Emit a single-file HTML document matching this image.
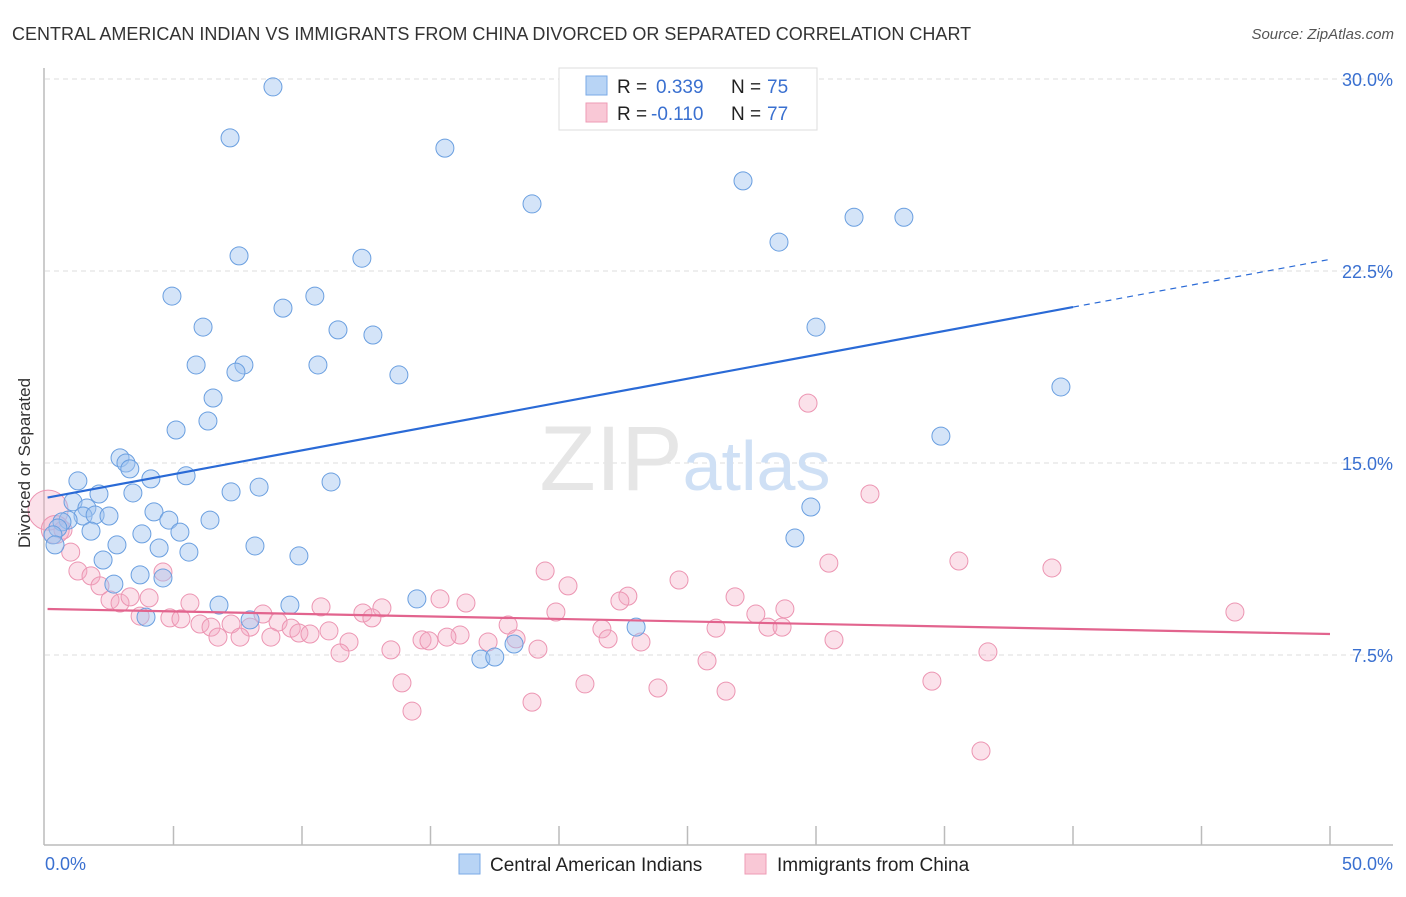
<!DOCTYPE html>
<html><head><meta charset="utf-8"><style>
body{margin:0;background:#fff;font-family:"Liberation Sans",sans-serif;}
svg text{font-family:"Liberation Sans",sans-serif;}
</style></head><body>
<svg id="chart" width="1406" height="892" xmlns="http://www.w3.org/2000/svg">
<text x="12" y="40" font-size="18" fill="#333">CENTRAL AMERICAN INDIAN VS IMMIGRANTS FROM CHINA DIVORCED OR SEPARATED CORRELATION CHART</text>
<text x="1394" y="39" font-size="15" fill="#555" text-anchor="end" font-style="italic">Source: ZipAtlas.com</text>
<g id="grid"></g>
<text x="685" y="490" font-size="92" fill="#e6e6e6" text-anchor="middle" font-family="Liberation Serif">ZIP<tspan fill="#cfe0f5" font-family="Liberation Sans" font-size="70">atlas</tspan></text>
<g id="axes"></g>
<g id="pink"></g>
<g id="blue"></g>
<g id="trend"></g>
<text x="22" y="455" font-size="17" fill="#333" text-anchor="middle" transform="rotate(-90 30 455)">Divorced or Separated</text>
<g>
<rect x="559" y="68" width="258" height="62" fill="#fff" stroke="#ddd"/>
<rect x="586" y="76" width="21" height="19" fill="#b8d4f5" stroke="#7aaae6"/>
<rect x="586" y="103" width="21" height="19" fill="#f9c8d6" stroke="#ee9bb5"/>
<text x="617" y="93" font-size="19" fill="#222">R = </text><text x="656" y="93" font-size="19" fill="#3a70d0">0.339</text>
<text x="731" y="93" font-size="19" fill="#222">N = </text><text x="767" y="93" font-size="19" fill="#3a70d0">75</text>
<text x="617" y="120" font-size="19" fill="#222">R = </text><text x="651" y="120" font-size="19" fill="#3a70d0">-0.110</text>
<text x="731" y="120" font-size="19" fill="#222">N = </text><text x="767" y="120" font-size="19" fill="#3a70d0">77</text>
</g>
<g>
<rect x="459" y="854" width="21" height="20" fill="#b8d4f5" stroke="#7aaae6"/>
<text x="490" y="871" font-size="19" fill="#222">Central American Indians</text>
<rect x="745" y="854" width="21" height="20" fill="#f9c8d6" stroke="#ee9bb5"/>
<text x="777" y="871" font-size="19" fill="#222">Immigrants from China</text>
</g>
</svg>
<script>
const blueX=[8.87,7.2,15.56,18.95,27.16,31.48,33.42,28.56,7.55,12.33,4.94,10.5,9.26,6.15,11.4,12.76,30.0,5.88,7.74,7.43,10.62,13.77,39.53,6.54,6.34,5.1,34.86,2.92,3.15,3.3,1.28,4.12,5.49,11.13,8.33,7.24,2.1,3.42,1.09,1.63,4.24,29.8,1.48,1.95,2.49,4.82,6.42,0.9,0.66,0.5,1.79,5.25,3.77,2.8,0.31,0.39,29.18,4.44,5.6,8.17,9.88,2.26,3.7,4.59,2.68,6.77,9.53,14.47,3.93,7.98,23.0,18.25,16.96,17.5];
const blueY=[29.69,27.7,27.3,25.12,26.02,24.6,24.6,23.63,23.09,23.0,21.52,21.52,21.05,20.31,20.2,20.0,20.31,18.83,18.83,18.55,18.83,18.44,17.97,17.54,16.64,16.29,16.05,15.2,15.0,14.77,14.3,14.38,14.5,14.26,14.06,13.87,13.79,13.83,13.48,13.24,13.09,13.28,12.93,12.97,12.93,12.77,12.77,12.77,12.7,12.46,12.34,12.3,12.23,11.8,12.19,11.8,12.07,11.68,11.52,11.76,11.37,11.21,10.63,10.51,10.27,9.45,9.45,9.69,8.98,8.87,8.59,7.93,7.34,7.42];
const pinkX=[0.12,0.4,29.69,32.1,0.7,1.0,1.28,1.79,2.14,4.59,19.46,30.5,35.56,39.18,20.35,24.67,15.37,22.68,26.85,22.37,46.3,2.53,2.92,3.31,4.05,5.64,16.38,10.74,13.11,19.88,28.79,3.7,4.86,5.29,8.48,12.37,12.72,27.66,6.03,6.46,7.24,7.98,9.07,9.58,18.02,21.67,26.11,28.13,28.68,6.73,7.59,8.79,9.88,10.31,11.05,14.67,14.94,16.15,15.64,17.24,18.33,21.91,23.19,30.7,11.83,11.48,13.46,19.18,25.76,36.69,13.89,21.01,23.85,26.5,34.51,18.95,14.28,36.42];
const pinkY=[13.16,12.4,17.34,13.79,12.38,11.52,10.78,10.59,10.2,10.74,10.78,11.09,11.17,10.9,10.2,10.43,9.69,9.8,9.77,9.61,9.18,9.65,9.53,9.77,9.73,9.53,9.53,9.38,9.34,9.18,9.3,9.02,8.95,8.91,9.1,9.14,8.95,9.1,8.71,8.59,8.71,8.59,8.79,8.55,8.67,8.52,8.55,8.59,8.59,8.2,8.2,8.2,8.36,8.32,8.44,8.09,8.05,8.28,8.2,8.01,8.13,8.13,8.01,8.09,8.01,7.58,7.7,7.73,7.27,7.62,6.41,6.37,6.21,6.09,6.48,5.66,5.31,3.75];
const yTicks=[7.5,15.0,22.5,30.0];
const xTickLabels=["0.0%","50.0%"];
const blueTrend=[13.63,0.1865];
const pinkTrend=[9.3,-0.0196];
const NS='http://www.w3.org/2000/svg';
const X=v=>45+v*25.7, Y=v=>847-v*25.6;
function mk(tag,attrs,parent){const e=document.createElementNS(NS,tag);for(const k in attrs)e.setAttribute(k,attrs[k]);parent.appendChild(e);return e;}
const grid=document.getElementById('grid'),axes=document.getElementById('axes');
yTicks.forEach(t=>{
 const l=mk('line',{x1:45,x2:1393,y1:Y(t),y2:Y(t),stroke:'#ddd','stroke-dasharray':'5,4'},grid);
 
 
 const tx=mk('text',{x:1393,y:Y(t)+7,'font-size':18,fill:'#3a70d0','text-anchor':'end'},grid);
 tx.textContent=t.toFixed(1)+'%';
 
 
});
const la=mk('line',{x1:44,x2:44,y1:68,y2:845,stroke:'#bbb','stroke-width':1.5},axes);


const lb=mk('line',{x1:44,x2:1393,y1:845,y2:845,stroke:'#bbb','stroke-width':1.5},axes);


for(let i=1;i<=10;i++){
 const tk=mk('line',{x1:X(i*5),x2:X(i*5),y1:826,y2:845,stroke:'#bbb','stroke-width':1.5},axes);
 
 
}
[[0,45,'start'],[50,1393,'end']].forEach((a,i)=>{
 const t=mk('text',{x:a[1],y:870,'font-size':18,fill:'#3a70d0','text-anchor':a[2]},axes);
 t.textContent=xTickLabels[i];
 
 
});
const pg=document.getElementById('pink');
pinkX.forEach((v,i)=>{
 const r=i===0?20:(i===1?14:9);
 const c=mk('circle',{cx:X(v),cy:Y(pinkY[i]),r:r,fill:'rgba(244,170,196,0.35)',stroke:'#ec95b2','stroke-width':1},pg);
 
 
});
const bg=document.getElementById('blue');
blueX.forEach((v,i)=>{
 const c=mk('circle',{cx:X(v),cy:Y(blueY[i]),r:9,fill:'rgba(160,196,240,0.45)',stroke:'#6a9fe0','stroke-width':1},bg);
 
 
});
const tg=document.getElementById('trend');
const b1=mk('line',{x1:X(0.1),y1:Y(blueTrend[0]+blueTrend[1]*0.1),x2:X(40),y2:Y(blueTrend[0]+blueTrend[1]*40),stroke:'#2a6ad6','stroke-width':2.2},tg);


const b2=mk('line',{x1:X(40),y1:Y(blueTrend[0]+blueTrend[1]*40),x2:X(50),y2:Y(blueTrend[0]+blueTrend[1]*50),stroke:'#2a6ad6','stroke-width':1.2,'stroke-dasharray':'6,5'},tg);


const p1=mk('line',{x1:X(0.1),y1:Y(pinkTrend[0]+pinkTrend[1]*0.1),x2:X(50),y2:Y(pinkTrend[0]+pinkTrend[1]*50),stroke:'#e2648e','stroke-width':2.2},tg);


</script>
</body></html>
